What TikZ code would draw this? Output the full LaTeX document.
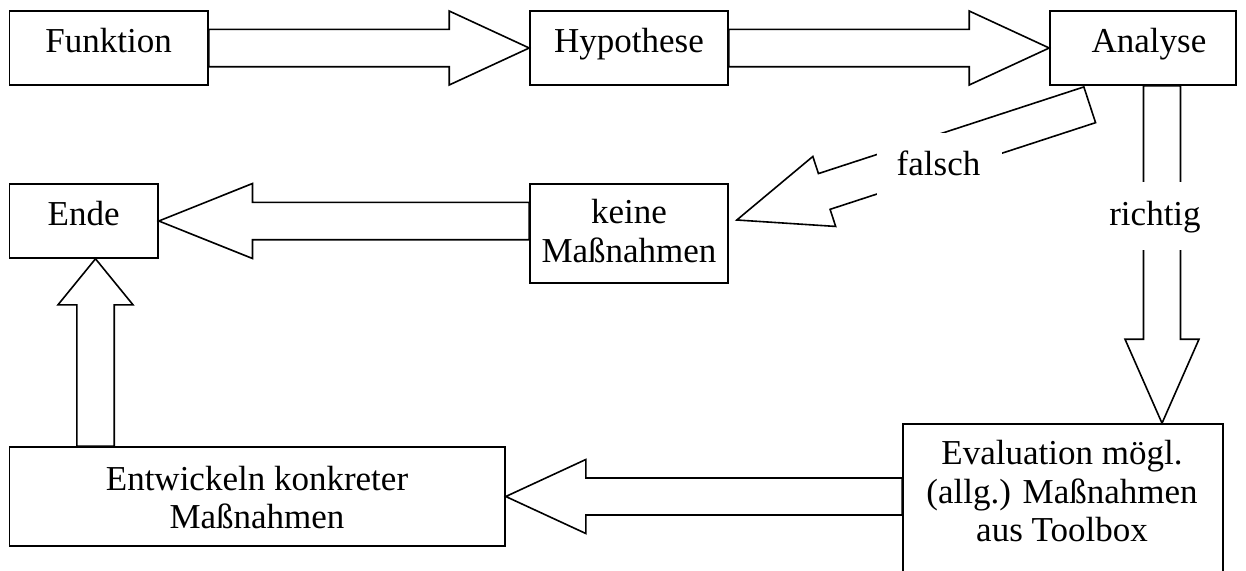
\documentclass[tikz,border=0pt]{standalone}
\usepackage{fontspec}
\setmainfont{Liberation Serif}
\usetikzlibrary{calc}
\tikzset{
  box/.style={draw, line width=1.6pt, inner sep=0pt, fill=white},
  blk/.style={draw, line width=1.6pt, fill=white, line join=miter},
  txt/.style={inner sep=0pt, align=center, font=\fontsize{35}{38.5}\selectfont},
  labbg/.style={fill=white, inner sep=0pt},
}
\newcommand\blkarrow[5]{%
  \coordinate (tmpH) at ($(#2)!#5!(#1)$);
  \draw[blk] ($(#1)!#3!90:(#2)$) -- ($(tmpH)!#3!90:(#2)$) -- ($(tmpH)!#4!90:(#2)$) -- (#2)
    -- ($(tmpH)!#4!-90:(#2)$) -- ($(tmpH)!#3!-90:(#2)$) -- ($(#1)!#3!-90:(#2)$) -- cycle;
}
\begin{document}
\begin{tikzpicture}[x=1pt,y=-1pt]
\useasboundingbox (0,0) rectangle (1246,570);
\clip (0,0) rectangle (1246,570);
% boxes
\node[box, minimum width=198.7, minimum height=74] (F) at (108.65,48) {};
\node[box, minimum width=198, minimum height=74] (H) at (629,48) {};
\node[box, minimum width=186, minimum height=74] (A) at (1143,48) {};
\node[box, minimum width=148.7, minimum height=74] (E) at (83.65,221) {};
\node[box, minimum width=198, minimum height=99] (K) at (629,233.5) {};
\node[box, minimum width=495.7, minimum height=99] (W) at (257.15,496.5) {};
\node[box, minimum width=320, minimum height=200] (V) at (1063,524) {};
% connector ends
\coordinate (fs) at ($(A.south west)+(40.5,19)$);
\coordinate (fe) at ($(K.east)+(8,-13.5)$);
\coordinate (rs) at ($(A.south)+(19,0)$);
\coordinate (re) at (rs |- V.north);
\coordinate (us) at ($(W.north west)+(87,0)$);
\coordinate (ue) at (us |- E.south);
\coordinate (ks) at (K.west |- E.east);
\coordinate (vs) at (V.west |- W.east);
% block arrows
\blkarrow{F.east}{H.west}{18.7pt}{37pt}{80pt}
\blkarrow{H.east}{A.west}{18.7pt}{37pt}{80pt}
\blkarrow{fs}{fe}{18.8pt}{36.8pt}{92pt}
\blkarrow{rs}{re}{18.5pt}{37pt}{84pt}
\blkarrow{ks}{E.east}{18.7pt}{37.5pt}{93.7pt}
\blkarrow{us}{ue}{18.7pt}{37.5pt}{46pt}
\blkarrow{vs}{W.east}{18.5pt}{37pt}{80pt}
% label backgrounds
\node[labbg, minimum width=125, minimum height=67] (fbg) at (939.5,166.5) {};
\node[labbg, minimum width=110, minimum height=68] (rbg) at (1157,216) {};
% texts
\node[txt, anchor=base] (tF) at (108.7,52) {Funktion};
\node[txt, anchor=base] (tH) at (629,52) {Hypothese};
\node[txt, anchor=base] (tA) at (1149,52) {Analyse};
\node[txt, anchor=base] (tE) at (83.7,225.7) {Ende};
\node[txt, anchor=base] (tK) at (629,262) {keine\\Maßnahmen};
\node[txt, anchor=base] (tW) at (257,528.5) {Entwickeln konkreter\\Maßnahmen};
\node[txt, anchor=base] (tV) at (1062,541.5) {Evaluation mögl.\\(allg.) Maßnahmen\\aus Toolbox};
\node[txt, anchor=base] (tf) at (938.5,175) {falsch};
\node[txt, anchor=base] (tr) at (1155,225) {richtig};
\end{tikzpicture}
\end{document}
